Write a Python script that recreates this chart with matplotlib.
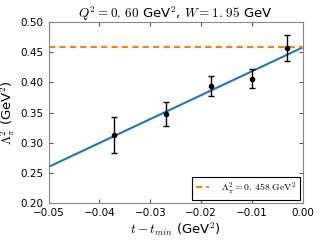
import matplotlib
matplotlib.use("Agg")
import matplotlib.pyplot as plt
import numpy as np

plt.rcParams['mathtext.fontset'] = 'cm'

t_vals = [-0.0371, -0.0270, -0.0181, -0.0099, -0.0031]
lam2_vals = [0.313, 0.348, 0.394, 0.406, 0.457]
lam2_errs = [0.030, 0.020, 0.016, 0.016, 0.022]
fit_intercept = 0.458
fit_slope = 3.96
lam2_const = 0.458

fig = plt.figure(figsize=(3.2, 2.4), dpi=100)
ax = fig.add_axes([0.152, 0.154, 0.794, 0.754])

xs = np.linspace(-0.05, 0.0, 50)
ax.plot(xs, fit_intercept + fit_slope * xs, color='#1f77b4', lw=1.5)
ax.axhline(lam2_const, color='#ff7f0e', ls='--', lw=1.5, dashes=(3, 2),
           label=r'$\Lambda_\pi^2 = 0.\,458\ \mathrm{GeV}^2$')
ax.errorbar(t_vals, lam2_vals, yerr=lam2_errs, fmt='o', color='black', ms=3,
            capsize=2, elinewidth=1, capthick=1)

ax.set_xlim(-0.05, 0.0)
ax.set_ylim(0.20, 0.50)
ax.set_xticks([-0.05, -0.04, -0.03, -0.02, -0.01, 0.0])
ax.set_yticks([0.20, 0.25, 0.30, 0.35, 0.40, 0.45, 0.50])
ax.set_xticklabels(['\u22120.05', '\u22120.04', '\u22120.03', '\u22120.02', '\u22120.01', '0.00'])
ax.set_yticklabels(['0.20', '0.25', '0.30', '0.35', '0.40', '0.45', '0.50'])
ax.tick_params(direction='in', top=True, right=True, labelsize=7.5, length=3, color='#555555')
for s in ax.spines.values():
    s.set_color('#888888')

ax.set_xlabel(r'$t - t_{min}$ (GeV$^2$)', fontsize=9.5, labelpad=2)
ax.set_ylabel(r'$\Lambda_\pi^2$ (GeV$^2$)', fontsize=9.5, labelpad=2)
ax.set_title(r'$Q^2 = 0.\,60$ GeV$^2$, $W = 1.\,95$ GeV', fontsize=9.5, pad=3)

leg = ax.legend(loc='lower right', fontsize=7, fancybox=False, framealpha=1,
                handlelength=1.3, handletextpad=1.2, borderaxespad=0.3)
leg.get_frame().set_edgecolor('black')
leg.get_frame().set_linewidth(0.8)

fig.savefig('out.png', dpi=100)
